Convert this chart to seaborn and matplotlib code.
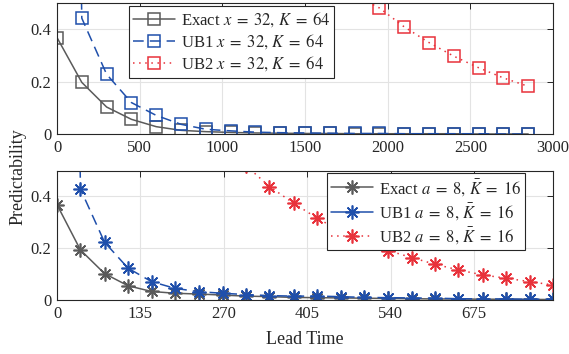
import matplotlib
matplotlib.use("Agg")
import matplotlib.pyplot as plt
import seaborn as sns
import pandas as pd

# ---- data: top panel (x = 32, K = 64) ----
lead_top = [0, 150, 300, 450, 600, 750, 900, 1050, 1200, 1350,
            1500, 1650, 1800, 1950, 2100, 2250, 2400, 2550, 2700, 2850]
exact_top = [0.368, 0.197, 0.103, 0.056, 0.028, 0.014, 0.009, 0.006, 0.004, 0.003,
             0.002, 0.002, 0.001, 0.001, 0.001, 0.001, 0.001, 0.000, 0.000, 0.000]
ub1_top = [6.00, 0.442, 0.228, 0.120, 0.071, 0.037, 0.018, 0.012, 0.007, 0.005,
           0.004, 0.003, 0.002, 0.002, 0.001, 0.001, 0.001, 0.001, 0.000, 0.000]
ub2_top = [6.00, 4.60, 3.50, 2.70, 2.05, 1.58, 1.22, 0.94, 0.76, 0.66,
           0.60, 0.565, 0.53, 0.481, 0.409, 0.349, 0.297, 0.253, 0.214, 0.182]

# ---- data: bottom panel (a = 8, K-bar = 16) ----
lead_bot = [0, 38, 77, 115, 153, 191, 230, 268, 306, 344, 383,
            421, 459, 497, 536, 574, 612, 650, 689, 727, 765, 803]
exact_bot = [0.368, 0.193, 0.102, 0.055, 0.033, 0.026, 0.023, 0.019, 0.015, 0.013, 0.010,
             0.009, 0.008, 0.007, 0.006, 0.005, 0.004, 0.004, 0.003, 0.003, 0.002, 0.002]
ub1_bot = [6.00, 0.428, 0.223, 0.123, 0.071, 0.045, 0.032, 0.026, 0.021, 0.017, 0.015,
           0.015, 0.013, 0.010, 0.009, 0.008, 0.007, 0.005, 0.004, 0.004, 0.003, 0.003]
ub2_bot = [2.20, 1.80, 1.48, 1.22, 1.00, 0.85, 0.72, 0.61, 0.519, 0.438, 0.374,
           0.316, 0.266, 0.226, 0.191, 0.164, 0.138, 0.116, 0.097, 0.084, 0.071, 0.058]

top_labels = [r"Exact $x\;=\;32,\, K\;=\;64$", r"UB1 $x\;=\;32,\, K\;=\;64$",
              r"UB2 $x\;=\;32,\, K\;=\;64$"]
bot_labels = [r"Exact $a\;=\;8,\, \bar{K}\;=\;16$", r"UB1 $a\;=\;8,\, \bar{K}\;=\;16$",
              r"UB2 $a\;=\;8,\, \bar{K}\;=\;16$"]
top_xticks = [0, 500, 1000, 1500, 2000, 2500, 3000]
bot_xticks = [0, 135, 270, 405, 540, 675]
yticks = [0, 0.2, 0.4]

GRAY = "#5a5a5a"
BLUE = "#1f4fab"
RED = "#e8323b"
INK = "#262626"

sns.set_theme(style="white")
plt.rcParams["font.family"] = ["Liberation Serif", "DejaVu Serif"]
plt.rcParams["mathtext.fontset"] = "stix"
plt.rcParams["font.size"] = 12

fig = plt.figure(figsize=(5.69, 3.54), dpi=100)
W, H = 569.0, 354.0
ax_top = fig.add_axes([57 / W, (H - 134) / H, 496 / W, 131 / H])
ax_bot = fig.add_axes([57 / W, (H - 300) / H, 496 / W, 129.5 / H])


def draw_series(ax, x, y, color, ls, marker, label, ms, mew):
    df = pd.DataFrame({"x": x, "y": y})
    sns.lineplot(data=df, x="x", y="y", ax=ax, color=color, linestyle=ls,
                 marker=marker, markersize=ms, markeredgewidth=mew,
                 markeredgecolor=color, markerfacecolor="none",
                 linewidth=1.1, label=label, estimator=None, sort=False)


def style_axes(ax, xticks, xlim):
    ax.set_xlim(*xlim)
    ax.set_ylim(0, 0.5)
    ax.set_xticks(xticks)
    ax.set_yticks(yticks)
    ax.set_yticklabels(["0", "0.2", "0.4"])
    ax.set_xticklabels([str(t) for t in xticks])
    ax.grid(True, color="#e3e3e3", linewidth=0.8)
    ax.set_axisbelow(True)
    ax.tick_params(direction="in", length=4, width=0.7, top=True, right=True,
                   labelsize=12, colors=INK, pad=4)
    for s in ax.spines.values():
        s.set_visible(True)
        s.set_color(INK)
        s.set_linewidth(0.8)
    ax.set_xlabel("")
    ax.set_ylabel("")


# top panel: open squares
draw_series(ax_top, lead_top, exact_top, GRAY, "-", "s", top_labels[0], 9, 1.1)
draw_series(ax_top, lead_top, ub1_top, BLUE, (0, (7, 4)), "s", top_labels[1], 9, 1.1)
draw_series(ax_top, lead_top, ub2_top, RED, (0, (1, 3)), "s", top_labels[2], 9, 1.1)
style_axes(ax_top, top_xticks, (0, 3000))

# bottom panel: asterisks
star = (8, 2, 0)
draw_series(ax_bot, lead_bot, exact_bot, GRAY, "-", star, bot_labels[0], 10, 1.2)
draw_series(ax_bot, lead_bot, ub1_bot, BLUE, (0, (7, 4)), star, bot_labels[1], 10, 1.2)
draw_series(ax_bot, lead_bot, ub2_bot, RED, (0, (1, 3)), star, bot_labels[2], 10, 1.2)
style_axes(ax_bot, bot_xticks, (0, 803))

for ax, anchor in [(ax_top, (129 / W, (H - 6) / H)),
                   (ax_bot, (327 / W, (H - 172.5) / H))]:
    leg = ax.legend(loc="upper left", bbox_to_anchor=anchor, bbox_transform=fig.transFigure,
                    fontsize=12, frameon=True, fancybox=False, framealpha=1,
                    edgecolor=INK, borderpad=0.25, labelspacing=0.2,
                    handlelength=2.5, handletextpad=0.35, borderaxespad=0,
                    numpoints=1)
    leg.get_frame().set_linewidth(0.8)

# legend samples for Exact and UB1 in the lower panel are drawn solid
for line in ax_bot.get_legend().get_lines()[:2]:
    line.set_linestyle("-")

fig.text(18 / W, 0.5, "Predictability", rotation=90, ha="center", va="center",
         fontsize=13, color=INK)
fig.text(305 / W, (H - 339) / H, "Lead Time", ha="center", va="center",
         fontsize=13, color=INK)

fig.savefig("out.png", dpi=100)
